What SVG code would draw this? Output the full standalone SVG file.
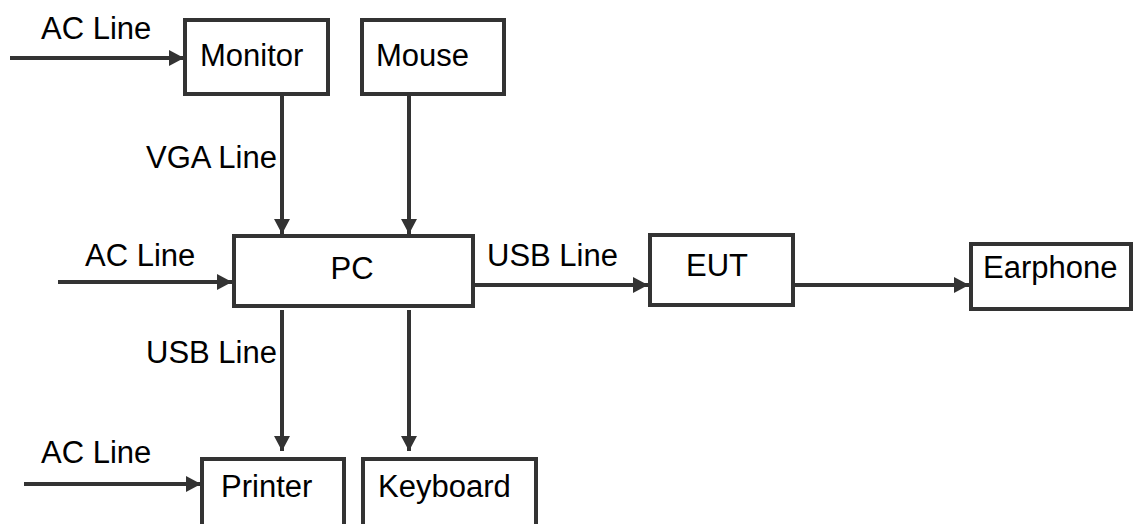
<svg xmlns="http://www.w3.org/2000/svg" width="1134" height="524" viewBox="0 0 1134 524">
<defs>
<marker id="ah" markerUnits="userSpaceOnUse" markerWidth="18" markerHeight="18" refX="15" refY="8" orient="auto">
<path d="M0,0 L15,8 L0,16 z" fill="#333"/>
</marker>
<style>
.box{fill:#fff;stroke:#333;stroke-width:4}
.lbl{font-family:"Liberation Sans",Arial,sans-serif;font-size:31px;fill:#000}
.con{stroke:#333;stroke-width:4;fill:none;marker-end:url(#ah)}
</style>
</defs>
<rect width="1134" height="524" fill="#fff"/>
<g id="connectors">
<line class="con" x1="10" y1="58" x2="184" y2="58"/>
<line class="con" x1="282" y1="96" x2="282" y2="234"/>
<line class="con" x1="409" y1="96" x2="409" y2="234"/>
<line class="con" x1="58" y1="282" x2="232" y2="282"/>
<line class="con" x1="475" y1="285" x2="648" y2="285"/>
<line class="con" x1="795" y1="285" x2="969" y2="285"/>
<line class="con" x1="282" y1="310" x2="282" y2="451"/>
<line class="con" x1="409" y1="310" x2="409" y2="451"/>
<line class="con" x1="24" y1="484" x2="201" y2="484"/>
</g>
<g id="labels">
<text class="lbl" x="41" y="39">AC Line</text>
<text class="lbl" x="146" y="168">VGA Line</text>
<text class="lbl" x="85" y="266">AC Line</text>
<text class="lbl" x="487" y="266">USB Line</text>
<text class="lbl" x="146" y="363">USB Line</text>
<text class="lbl" x="41" y="463">AC Line</text>
</g>
<g id="monitor"><rect class="box" x="185" y="20" width="143" height="74"/><text class="lbl" x="200" y="66">Monitor</text></g>
<g id="mouse"><rect class="box" x="362" y="20" width="142" height="74"/><text class="lbl" x="376" y="66">Mouse</text></g>
<g id="pc"><rect class="box" x="234" y="236" width="239" height="70"/><text class="lbl" x="352" y="279" text-anchor="middle">PC</text></g>
<g id="eut"><rect class="box" x="650" y="235" width="143" height="70"/><text class="lbl" x="717" y="276" text-anchor="middle">EUT</text></g>
<g id="earphone"><rect class="box" x="971" y="244" width="160" height="65"/><text class="lbl" x="983" y="278">Earphone</text></g>
<g id="printer"><rect class="box" x="202" y="459" width="142" height="80"/><text class="lbl" x="221" y="497">Printer</text></g>
<g id="keyboard"><rect class="box" x="363" y="459" width="173" height="80"/><text class="lbl" x="378" y="497">Keyboard</text></g>
</svg>
